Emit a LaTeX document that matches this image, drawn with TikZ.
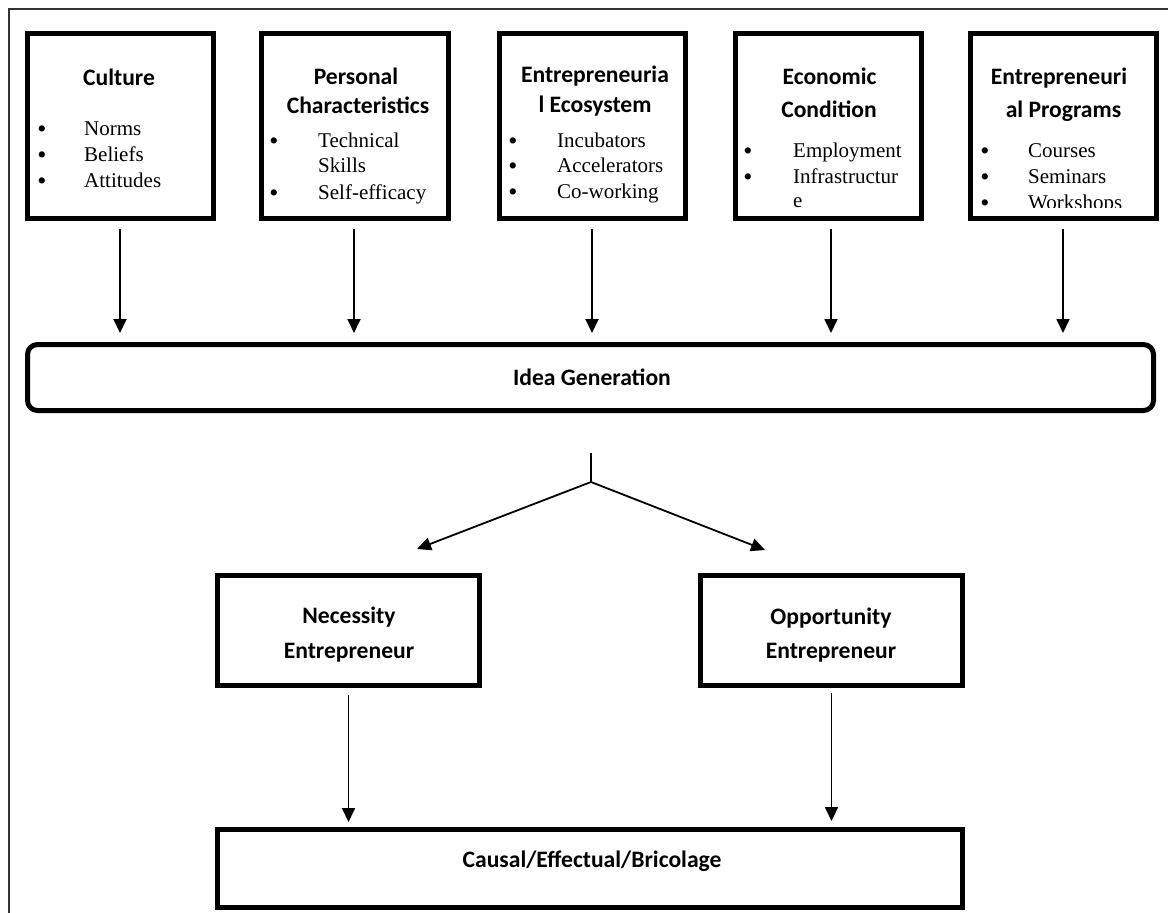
\documentclass[tikz,border=0pt]{standalone}
\usepackage{fontspec}
\setmainfont{Liberation Serif}
\newfontfamily\hfont{Carlito}
\usetikzlibrary{arrows.meta}
\tikzset{
  x=1pt, y=-1pt,
  box/.style={draw, line width=5pt, rectangle, inner sep=0pt},
  head/.style={font=\hfont\bfseries\fontsize{23.6}{28}\selectfont, anchor=base, inner sep=0pt},
  item/.style={font=\fontsize{21}{26}\selectfont, anchor=base west, inner sep=0pt},
  dot/.style={font=\fontsize{26}{30}\selectfont, anchor=base, inner sep=0pt, yshift=-2.5pt},
  arr/.style={line width=1.8pt, -{Triangle[length=14pt,width=13pt]}},
  frame/.style={line width=1.4pt, draw=black!80}
}
\begin{document}
\begin{tikzpicture}
\useasboundingbox (0,0) rectangle (1168,913);
% outer frame (top and left only)
\draw[frame] (9,913) -- (9,9) -- (1168,9);

% top boxes
\node[box, minimum width=186pt, minimum height=185pt] (b1) at (120.5,126) {};
\node[box, minimum width=187pt, minimum height=185pt] (b2) at (355,126) {};
\node[box, minimum width=186pt, minimum height=185pt] (b3) at (592.5,126) {};
\node[box, minimum width=186pt, minimum height=185pt] (b4) at (828.5,126) {};
\node[box, minimum width=186pt, minimum height=185pt] (b5) at (1063.5,126) {};

% box 1
\node[head] (h1) at (119,85) {Culture};
\node[dot] (d1a) at (42,135) {•};
\node[item] (t1a) at (84,135) {Norms};
\node[dot] (d1b) at (42,161) {•};
\node[item] (t1b) at (84,161) {Beliefs};
\node[dot] (d1c) at (42,187) {•};
\node[item] (t1c) at (84,187) {Attitudes};

% box 2
\node[head] (h2a) at (356,84) {Personal};
\node[head] (h2b) at (358,113) {Characteristics};
\node[dot] (d2a) at (274,147) {•};
\node[item] (t2a) at (318,147) {Technical};
\node[item] (t2b) at (318,172) {Skills};
\node[dot] (d2b) at (274,199) {•};
\node[item] (t2c) at (318,199) {Self-efficacy};

% box 3
\node[head] (h3a) at (595,82) {Entrepreneuria};
\node[head] (h3b) at (595,112) {l Ecosystem};
\begin{scope}
\clip (500,30) rectangle (685,211);
\node[dot] (d3a) at (513,147) {•};
\node[item] (t3a) at (557,147) {Incubators};
\node[dot] (d3b) at (513,172) {•};
\node[item] (t3b) at (557,172) {Accelerators};
\node[dot] (d3c) at (513,198) {•};
\node[item] (t3c) at (557,198) {Co-working};
\end{scope}

% box 4
\node[head] (h4a) at (829.5,84) {Economic};
\node[head] (h4b) at (829,117) {Condition};
\begin{scope}
\clip (736,30) rectangle (921,208);
\node[dot] (d4a) at (748,157) {•};
\node[item] (t4a) at (793,157) {Employment};
\node[dot] (d4b) at (748,183) {•};
\node[item] (t4b) at (793,183) {Infrastructur};
\node[item] (t4c) at (793,207) {e};
\end{scope}

% box 5
\node[head] (h5a) at (1059,84) {Entrepreneuri};
\node[head] (h5b) at (1063.5,117) {al Programs};
\begin{scope}
\clip (971,30) rectangle (1156,207);
\node[dot] (d5a) at (985,157) {•};
\node[item] (t5a) at (1028,157) {Courses};
\node[dot] (d5b) at (985,183) {•};
\node[item] (t5b) at (1028,183) {Seminars};
\node[dot] (d5c) at (985,209) {•};
\node[item] (t5c) at (1028,209) {Workshops};
\end{scope}

% idea generation
\node[box, rounded corners=10pt, minimum width=1126pt, minimum height=66pt] (idea) at (590.5,377.5) {};
\node[head] (ideat) at (592,385.5) {Idea Generation};

\foreach \b/\x in {b1/120, b2/354, b3/592, b4/831, b5/1063}{
  \draw[arr] ([yshift=-8pt]\b.south -| \x,0) -- ([yshift=9pt]idea.north -| \x,0);
}

% branch
\coordinate (bs) at (591,453);
\coordinate (bj) at (591,482);
\coordinate (tl) at (417,549);
\coordinate (tr) at (765,550);
\draw[line width=1.8pt] (bs) -- (bj);
\draw[arr] (bj) -- (tl);
\draw[arr] (bj) -- (tr);

% middle boxes
\node[box, minimum width=262pt, minimum height=110pt] (nec) at (348.5,630.5) {};
\node[head] (nect1) at (349,623.5) {Necessity};
\node[head] (nect2) at (349,658) {Entrepreneur};
\node[box, minimum width=262pt, minimum height=110pt] (opp) at (831.5,630.5) {};
\node[head] (oppt1) at (831,624.5) {Opportunity};
\node[head] (oppt2) at (831,658) {Entrepreneur};

% bottom box
\node[box, minimum width=745pt, minimum height=78pt] (cau) at (590,868.5) {};
\node[head] (caut) at (592,867) {Causal/Effectual/Bricolage};

\draw[arr] ([yshift=-7pt]nec.south) -- ([yshift=5pt]cau.north -| nec.south);
\draw[arr] ([yshift=-5pt]opp.south) -- ([yshift=6pt]cau.north -| opp.south);
\end{tikzpicture}
\end{document}
